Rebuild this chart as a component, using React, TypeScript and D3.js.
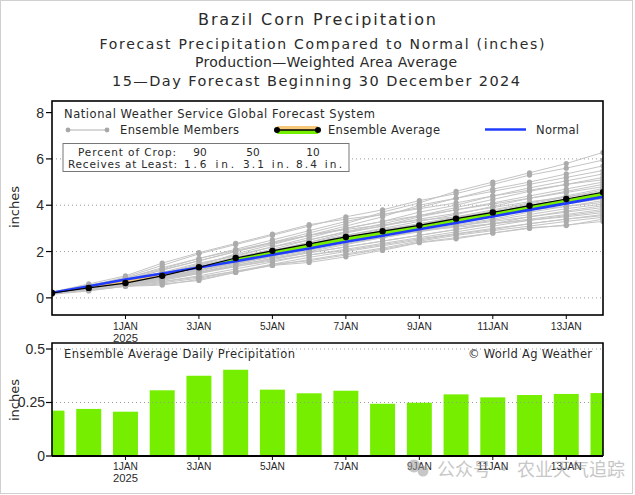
import React from "react";
import * as d3 from "d3";

// ---------- DATA ----------
const dayLabels = ["30DEC", "31DEC", "1JAN", "2JAN", "3JAN", "4JAN", "5JAN", "6JAN", "7JAN", "8JAN", "9JAN", "10JAN", "11JAN", "12JAN", "13JAN", "14JAN"];
const dailyAvg = [0.212, 0.22, 0.207, 0.307, 0.375, 0.403, 0.31, 0.293, 0.305, 0.244, 0.249, 0.288, 0.274, 0.285, 0.29, 0.294];
const ensembleAvg = [0.21, 0.43, 0.64, 0.95, 1.32, 1.72, 2.03, 2.33, 2.63, 2.88, 3.13, 3.42, 3.69, 3.98, 4.27, 4.56];
const normal = [0.22, 0.5, 0.79, 1.05, 1.31, 1.58, 1.86, 2.13, 2.42, 2.68, 2.96, 3.23, 3.51, 3.8, 4.08, 4.36];

const m01 = [0.22, 0.45, 0.75, 1.2, 1.6, 2.0, 2.4, 2.8, 3.2, 3.7, 4.1, 4.6, 5.0, 5.4, 5.8, 6.28];
const m02 = [0.2, 0.5, 0.9, 1.4, 1.9, 2.3, 2.7, 3.1, 3.5, 3.8, 4.2, 4.5, 4.9, 5.3, 5.6, 5.95];
const m03 = [0.25, 0.55, 0.85, 1.3, 1.7, 2.1, 2.5, 2.9, 3.3, 3.6, 3.9, 4.3, 4.7, 5.0, 5.35, 5.7];
const m04 = [0.2, 0.4, 0.7, 1.0, 1.4, 1.9, 2.3, 2.7, 3.1, 3.5, 4.0, 4.3, 4.6, 4.9, 5.2, 5.5];
const m05 = [0.22, 0.48, 0.8, 1.1, 1.5, 1.8, 2.2, 2.6, 3.0, 3.3, 3.7, 4.0, 4.4, 4.75, 5.05, 5.35];
const m06 = [0.18, 0.4, 0.65, 1.0, 1.35, 1.75, 2.1, 2.5, 2.85, 3.2, 3.55, 3.9, 4.25, 4.6, 4.9, 5.2];
const m07 = [0.25, 0.6, 0.95, 1.5, 1.95, 2.35, 2.75, 3.16, 3.4, 3.6, 3.85, 4.1, 4.4, 4.65, 4.9, 5.1];
const m08 = [0.2, 0.42, 0.7, 0.95, 1.3, 1.6, 2.0, 2.4, 2.8, 3.1, 3.5, 3.8, 4.1, 4.4, 4.7, 5.0];
const m09 = [0.2, 0.45, 0.6, 0.9, 1.2, 1.55, 1.9, 2.3, 2.7, 3.0, 3.3, 3.6, 3.95, 4.3, 4.6, 4.9];
const m10 = [0.22, 0.5, 0.8, 1.2, 1.6, 2.0, 2.35, 2.7, 3.0, 3.3, 3.55, 3.8, 4.05, 4.3, 4.55, 4.8];
const m11 = [0.2, 0.4, 0.6, 0.85, 1.2, 1.5, 1.85, 2.2, 2.55, 2.9, 3.2, 3.5, 3.8, 4.1, 4.4, 4.72];
const m12 = [0.2, 0.35, 0.55, 0.8, 1.1, 1.45, 1.8, 2.15, 2.5, 2.85, 3.15, 3.45, 3.75, 4.05, 4.35, 4.65];
const m13 = [0.23, 0.5, 0.75, 1.05, 1.45, 1.85, 2.2, 2.5, 2.85, 3.1, 3.4, 3.65, 3.9, 4.15, 4.35, 4.58];
const m14 = [0.2, 0.42, 0.65, 0.95, 1.3, 1.65, 2.0, 2.3, 2.6, 2.9, 3.15, 3.4, 3.7, 4.0, 4.25, 4.5];
const m15 = [0.18, 0.38, 0.58, 0.85, 1.15, 1.5, 1.8, 2.1, 2.45, 2.75, 3.05, 3.3, 3.6, 3.9, 4.15, 4.42];
const m16 = [0.22, 0.45, 0.7, 1.0, 1.35, 1.7, 2.05, 2.4, 2.7, 2.95, 3.2, 3.45, 3.7, 3.95, 4.15, 4.35];
const m17 = [0.2, 0.4, 0.6, 0.9, 1.25, 1.6, 1.95, 2.25, 2.55, 2.8, 3.05, 3.3, 3.55, 3.8, 4.05, 4.28];
const m18 = [0.2, 0.35, 0.55, 0.75, 1.05, 1.4, 1.7, 2.0, 2.3, 2.6, 2.9, 3.15, 3.4, 3.7, 3.95, 4.2];
const m19 = [0.25, 0.52, 0.85, 1.25, 1.7, 2.05, 2.4, 2.7, 2.95, 3.15, 3.35, 3.5, 3.65, 3.8, 3.95, 4.12];
const m20 = [0.2, 0.4, 0.62, 0.9, 1.2, 1.5, 1.75, 2.05, 2.35, 2.6, 2.85, 3.1, 3.35, 3.6, 3.85, 4.05];
const m21 = [0.18, 0.36, 0.55, 0.8, 1.05, 1.35, 1.65, 1.95, 2.2, 2.45, 2.7, 2.95, 3.2, 3.5, 3.75, 3.98];
const m22 = [0.22, 0.44, 0.7, 1.0, 1.3, 1.6, 1.9, 2.2, 2.45, 2.7, 2.9, 3.1, 3.3, 3.5, 3.7, 3.9];
const m23 = [0.2, 0.38, 0.58, 0.8, 1.1, 1.4, 1.7, 1.95, 2.2, 2.45, 2.7, 2.95, 3.2, 3.4, 3.6, 3.82];
const m24 = [0.2, 0.35, 0.52, 0.7, 0.95, 1.25, 1.55, 1.85, 2.1, 2.35, 2.6, 2.85, 3.1, 3.35, 3.55, 3.75];
const m25 = [0.22, 0.46, 0.72, 1.05, 1.4, 1.75, 2.05, 2.3, 2.5, 2.7, 2.9, 3.05, 3.2, 3.35, 3.5, 3.68];
const m26 = [0.18, 0.34, 0.5, 0.65, 0.85, 1.15, 1.45, 1.75, 2.0, 2.25, 2.5, 2.75, 2.95, 3.2, 3.4, 3.6];
const m27 = [0.2, 0.4, 0.6, 0.85, 1.1, 1.35, 1.6, 1.85, 2.05, 2.3, 2.55, 2.77, 3.0, 3.2, 3.4, 3.55];
const m28 = [0.2, 0.32, 0.5, 0.6, 0.75, 1.1, 1.4, 1.65, 1.9, 2.15, 2.45, 2.7, 2.9, 3.1, 3.3, 3.48];
const m29 = [0.2, 0.38, 0.56, 0.7, 0.9, 1.15, 1.4, 1.53, 1.77, 2.05, 2.38, 2.55, 2.8, 3.03, 3.12, 3.4];
const m30 = [0.15, 0.3, 0.5, 0.55, 0.8, 1.1, 1.45, 1.6, 1.85, 2.1, 2.4, 2.6, 2.8, 3.0, 3.15, 3.3];
const members = [m01, m02, m03, m04, m05, m06, m07, m08, m09, m10, m11, m12, m13, m14, m15, m16, m17, m18, m19, m20, m21, m22, m23, m24, m25, m26, m27, m28, m29, m30];

const xTickDays = [2, 4, 6, 8, 10, 12, 14];
const xTickLabels = ["1JAN", "3JAN", "5JAN", "7JAN", "9JAN", "11JAN", "13JAN"];
const yTicksTop = [0, 2, 4, 6, 8];
const yGridTop = [0, 2, 4, 6];
const yTicksBottom = [0, 0.25, 0.5];
const yTickLabelsBottom = ["0", "0.25", "0.5"];

const titleLines = [
  "Brazil Corn Precipitation",
  "Forecast Precipitation Compared to Normal (inches)",
  "Production\u2014Weighted Area Average",
  "15\u2014Day Forecast Beginning 30 December 2024",
];
const cropPercents = ["90", "50", "10"];
const cropAmounts = ["1.6 in.", "3.1 in.", "8.4 in."];

// ---------- LAYOUT ----------
const W = 635, H = 495;
const L = 52, R = 603;
const topT = 101, topB = 315;
const botT = 343, botB = 456;
const FONT = "'DejaVu Sans', sans-serif";
const TICKFONT = "'Liberation Sans', Arial, sans-serif";
const GREEN = "#76ee00";
const TAN = "#f5c87a";
const BLUE = "#1f3cff";
const INK = "#2a2a2a";

const x = d3.scaleLinear().domain([0, 15]).range([L, R]);
const yT = d3.scaleLinear().domain([-0.74, 8.5]).range([topB, topT]);
const yB = d3.scaleLinear().domain([0, 0.528]).range([botB, botT]);

const idx = d3.range(dayLabels.length);
const lineTop = (arr: number[]) =>
  d3.line<number>().x((_, i) => x(i)).y((v) => yT(v))(arr) || "";

type TP = { x: number; y: number; s: string; size: number; len?: number; anchor?: string; fill?: string; family?: string; adj?: string };
const Txt = ({ x, y, s, size, len, anchor = "start", fill = INK, family = FONT, adj = "spacing" }: TP) => (
  <text x={x} y={y} fontSize={size} fontFamily={family} textAnchor={anchor} fill={fill}
    {...(len ? { textLength: len, lengthAdjust: adj } : {})}>{s}</text>
);

export default function App() {
  const barW = (x(1) - x(0)) * 0.68;
  const greenArea = d3.area<number>()
    .x((i) => x(i))
    .y0((i) => yT(normal[i]))
    .y1((i) => yT(Math.max(ensembleAvg[i], normal[i])))(idx) || "";
  const tanArea = d3.area<number>()
    .x((i) => x(i))
    .y0((i) => yT(normal[i]))
    .y1((i) => yT(Math.min(ensembleAvg[i], normal[i])))(idx) || "";

  return (
    <svg width={W} height={H} style={{ position: "absolute", left: 0, top: 0, background: "#fff" }}>
      <defs>
        <clipPath id="clipTop"><rect x={L} y={topT} width={R - L} height={topB - topT} /></clipPath>
        <clipPath id="clipBot"><rect x={L} y={botT} width={R - L} height={botB - botT} /></clipPath>
      </defs>
      <rect x={0} y={0} width={W} height={H} fill="#fff" />

      {/* titles */}
      <Txt x={317} y={25} s={titleLines[0]} size={16} len={238} anchor="middle" />
      <Txt x={322} y={49} s={titleLines[1]} size={14} len={445} anchor="middle" />
      <Txt x={326} y={67} s={titleLines[2]} size={14} len={262} anchor="middle" />
      <Txt x={316} y={86} s={titleLines[3]} size={14.5} len={408} anchor="middle" />

      {/* ===== TOP PANEL ===== */}
      {yGridTop.map((v) => (
        <line key={"g" + v} x1={L} x2={R} y1={yT(v)} y2={yT(v)} stroke="#999" strokeWidth={1} strokeDasharray="1,3" />
      ))}
      <g clipPath="url(#clipTop)">
        {members.map((m, k) => (
          <path key={"ml" + k} d={lineTop(m)} fill="none" stroke="#c4c4c4" strokeWidth={1} />
        ))}
        {members.map((m, k) => (
          <g key={"md" + k}>
            {m.map((v, i) => (
              <circle key={i} cx={x(i)} cy={yT(v)} r={2.6} fill="#ababab" />
            ))}
          </g>
        ))}
        <path d={greenArea} fill={GREEN} />
        <path d={tanArea} fill={TAN} />
        <path d={lineTop(normal)} fill="none" stroke={BLUE} strokeWidth={2.6} />
        <path d={lineTop(ensembleAvg)} fill="none" stroke="#000" strokeWidth={1.2} />
        {ensembleAvg.map((v, i) => (
          <circle key={"a" + i} cx={x(i)} cy={yT(v)} r={3.2} fill="#000" />
        ))}
      </g>

      {/* legend */}
      <Txt x={64} y={118} s="National Weather Service Global Forecast System" size={11.5} len={311} />
      <line x1={67} x2={108} y1={130} y2={130} stroke="#b0b0b0" strokeWidth={1.2} />
      <circle cx={68} cy={130} r={2.4} fill="#a8a8a8" />
      <circle cx={107} cy={130} r={2.4} fill="#a8a8a8" />
      <Txt x={120} y={134} s="Ensemble Members" size={11.5} len={119} />
      <rect x={277} y={126} width={41} height={4} fill={TAN} />
      <rect x={277} y={130} width={41} height={4} fill={GREEN} />
      <line x1={277} x2={318} y1={130} y2={130} stroke="#000" strokeWidth={1.5} />
      <circle cx={277} cy={130} r={3} fill="#000" />
      <circle cx={318} cy={130} r={3} fill="#000" />
      <Txt x={328} y={134} s="Ensemble Average" size={11.5} len={112} />
      <line x1={485} x2={526} y1={129.5} y2={129.5} stroke={BLUE} strokeWidth={2.6} />
      <Txt x={536} y={134} s="Normal" size={11.5} len={43} />

      {/* crop box */}
      <rect x={63} y={143.5} width={286} height={28} fill="#fff" stroke="#777" strokeWidth={1} />
      <Txt x={78} y={156} s="Percent of Crop:" size={10.5} len={98} />
      <Txt x={200} y={156} s={cropPercents[0]} size={10.5} anchor="middle" />
      <Txt x={253} y={156} s={cropPercents[1]} size={10.5} anchor="middle" />
      <Txt x={313} y={156} s={cropPercents[2]} size={10.5} anchor="middle" />
      <Txt x={68} y={168} s="Receives at Least:" size={10.5} len={109} />
      <Txt x={184} y={168} s={cropAmounts[0]} size={10.5} len={50} />
      <Txt x={243} y={168} s={cropAmounts[1]} size={10.5} len={46} />
      <Txt x={296} y={168} s={cropAmounts[2]} size={10.5} len={46} />

      {/* frame + axes top */}
      <rect x={L} y={topT} width={R - L} height={topB - topT} fill="none" stroke="#000" strokeWidth={1.6} />
      {yTicksTop.map((v) => (
        <g key={"yt" + v}>
          <line x1={L - 6} x2={L} y1={yT(v)} y2={yT(v)} stroke="#000" strokeWidth={1.2} />
          <Txt x={44} y={yT(v) + 5} s={String(v)} size={14} anchor="end" family={TICKFONT} />
        </g>
      ))}
      {xTickDays.map((d, i) => (
        <g key={"xt" + d}>
          <line x1={x(d)} x2={x(d)} y1={topB} y2={topB + 4} stroke="#000" strokeWidth={1} />
          <Txt x={x(d)} y={330} s={xTickLabels[i]} size={11} anchor="middle" family={TICKFONT} len={xTickLabels[i].length * 6.2} adj="spacingAndGlyphs" />
        </g>
      ))}
      <Txt x={x(2)} y={342} s="2025" size={11} anchor="middle" family={TICKFONT} len={25} adj="spacingAndGlyphs" />
      <text transform={`translate(19,207) rotate(-90)`} fontSize={13} fontFamily={FONT} textAnchor="middle" fill={INK}>inches</text>

      {/* ===== BOTTOM PANEL ===== */}
      <g clipPath="url(#clipBot)">
        {dailyAvg.map((v, i) => (
          <rect key={"b" + i} x={x(i) - barW / 2} y={yB(v)} width={barW} height={yB(0) - yB(v)} fill={GREEN} />
        ))}
      </g>
      {[0.25, 0.5].map((v) => (
        <line key={"gb" + v} x1={L} x2={R} y1={yB(v)} y2={yB(v)} stroke="#999" strokeWidth={1} strokeDasharray="1,3" />
      ))}
      <Txt x={64} y={358} s="Ensemble Average Daily Precipitation" size={11.5} len={231} />
      <Txt x={468} y={358} s={"\u00A9 World Ag Weather"} size={11.5} len={124} />
      <path d={`M${L},${botB} V${botT} H${R} V${botB}`} fill="none" stroke="#000" strokeWidth={1.6} />
      <line x1={L} x2={R} y1={botB} y2={botB} stroke="#000" strokeWidth={2} />
      {yTicksBottom.map((v, i) => (
        <g key={"ybt" + v}>
          <line x1={L - 6} x2={L} y1={yB(v)} y2={yB(v)} stroke="#000" strokeWidth={1.2} />
          <Txt x={45} y={yB(v) + 5} s={yTickLabelsBottom[i]} size={14} anchor="end" family={TICKFONT} />
        </g>
      ))}
      {xTickDays.map((d, i) => (
        <g key={"xbt" + d}>
          <line x1={x(d)} x2={x(d)} y1={botB} y2={botB + 4} stroke="#000" strokeWidth={1} />
          <Txt x={x(d)} y={470} s={xTickLabels[i]} size={11} anchor="middle" family={TICKFONT} len={xTickLabels[i].length * 6.2} adj="spacingAndGlyphs" />
        </g>
      ))}
      <Txt x={x(2)} y={482} s="2025" size={11} anchor="middle" family={TICKFONT} len={25} adj="spacingAndGlyphs" />
      <text transform={`translate(19,400) rotate(-90)`} fontSize={13} fontFamily={FONT} textAnchor="middle" fill={INK}>inches</text>

      {/* watermark */}
      <g opacity={0.55}>
        <circle cx={414} cy={466} r={6.5} fill="#9a9a9a" />
        <circle cx={423} cy={471} r={5.5} fill="#9a9a9a" />
        <text x={437} y={476} fontSize={18} fontFamily="'Noto Sans CJK SC', sans-serif" fill="#9a9a9a">{"公众号 · 农业天气追踪"}</text>
      </g>
      <rect x={0.5} y={0.5} width={W - 3} height={H - 2} fill="none" stroke="#d0d0d0" strokeWidth={1} />
    </svg>
  );
}
